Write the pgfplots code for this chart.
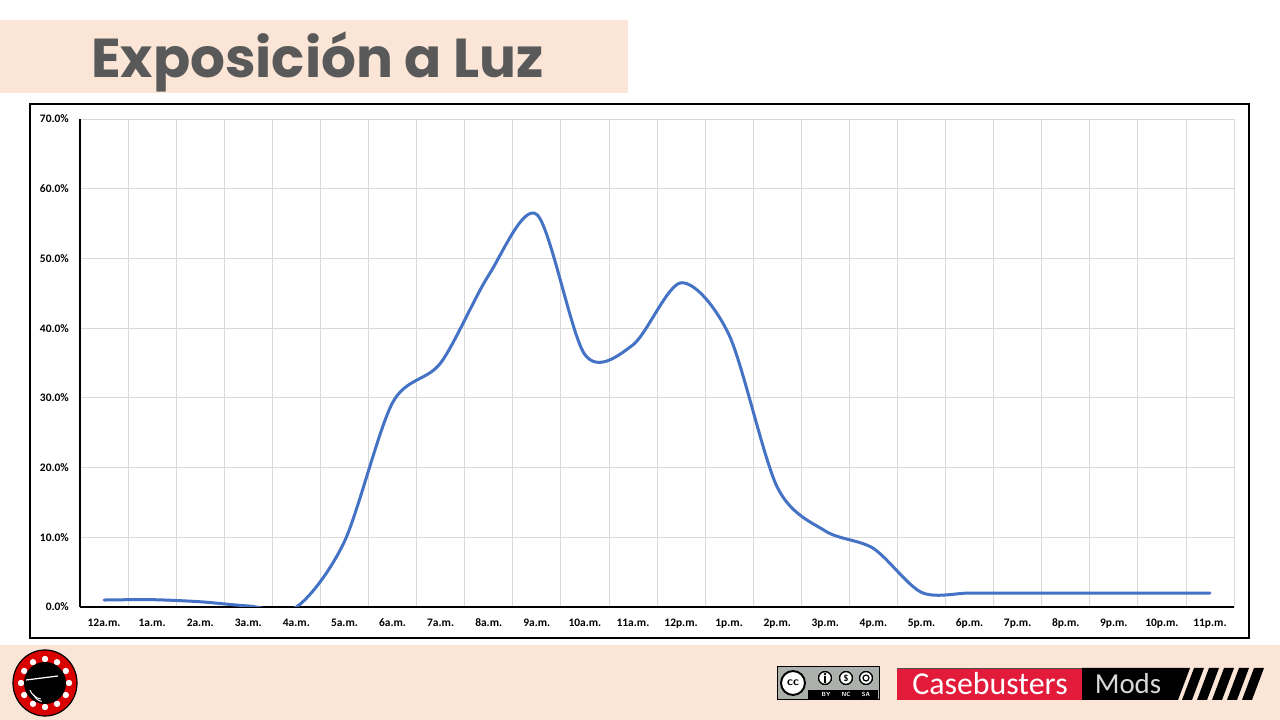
\documentclass[border=0pt]{standalone}
\usepackage{fontspec}
\setmainfont{Carlito}
\newfontfamily\titlefont{Poppins}
\usepackage{pgfplots}
\pgfplotsset{compat=1.18}
\definecolor{peach}{HTML}{FBE5D6}
\definecolor{titlegray}{HTML}{595959}
\definecolor{gridgray}{HTML}{D9D9D9}
\definecolor{lineblue}{HTML}{4472C4}
\definecolor{cbred}{HTML}{E31B3B}
\definecolor{ccgray}{HTML}{ABB1AA}
\pgfplotstableread{
x y
0 1.0
1 1.05
2 0.75
3 0.15
4 0.0
5 9.4
6 29.3
7 35.0
8 47.6
9 56.3
10 36.2
11 37.6
12 46.5
13 39.0
14 17.2
15 10.9
16 8.4
17 2.1
18 2.0
19 2.0
20 2.0
21 2.0
22 2.0
23 2.0
}\luzdata
\begin{document}
\begin{tikzpicture}[x=1bp,y=1bp]
\fill[white] (0,0) rectangle (1280,720);
% title band
\fill[peach] (0,700) rectangle (628,627);
\node[anchor=base west, inner sep=0pt, text=titlegray, font=\titlefont\bfseries\fontsize{55}{60}\selectfont] at (91,642) {Exposición a Luz};
% chart frame
\draw[black, line width=1.2bp] (30,616) rectangle (1249,82);
% bottom band
\fill[peach] (0,0) rectangle (1280,75);
% left logo
\fill[red!85!black] (45,37) ellipse [x radius=32, y radius=33];
\draw[black, line width=1.2bp] (45,37) ellipse [x radius=32, y radius=33];
\foreach \a in {0,30,...,330} {\fill[white] (45,37) ++(\a:24) circle (3.2);}
\fill[black] (45,37) circle (21);
\draw[white, line width=1.2bp] (26,40) -- (58,44);
\draw[white, line width=1bp] (30,30) arc (200:260:14);
\draw[white, line width=1bp] (34,25) arc (200:260:10);
% CC badge
\fill[ccgray] (777,53) rectangle (879,20);
\fill[black] (808,30) rectangle (878,21);
\draw[black, line width=1bp] (777,53) rectangle (879,20);
\fill[white] (793,37) circle (13);
\draw[black, line width=2bp] (793,37) circle (12);
\node[font=\sffamily\bfseries\fontsize{12}{12}\selectfont, inner sep=0pt] at (793,37) {cc};
\foreach \cx in {825,846,866} {\fill[white] (\cx,42) circle (7.5); \draw[black, line width=1.5bp] (\cx,42) circle (6.5);}
\fill[black] (825,46) circle (1.3); \fill[black] (823.8,37) rectangle (826.2,44);
\node[font=\sffamily\bfseries\fontsize{9}{9}\selectfont, inner sep=0pt] at (846,42) {\$};
\draw[black, line width=1.2bp] (866,42) circle (3);
\node[text=white, font=\sffamily\bfseries\fontsize{6}{6}\selectfont, inner sep=0pt] at (826,25.5) {BY};
\node[text=white, font=\sffamily\bfseries\fontsize{6}{6}\selectfont, inner sep=0pt] at (846,25.5) {NC};
\node[text=white, font=\sffamily\bfseries\fontsize{6}{6}\selectfont, inner sep=0pt] at (866,25.5) {SA};
% Casebusters Mods
\fill[cbred] (897,52) rectangle (1082,20);
\fill[black] (1082,20) -- (1082,52) -- (1190,52) -- (1178,20) -- cycle;
\draw[black!70, line width=0.8bp] (897,52) -- (1082,52);
\foreach \i in {0,...,4} {\fill[black] ({1182+15*\i},20) -- ({1192+15*\i},20) -- ({1204+15*\i},52) -- ({1194+15*\i},52) -- cycle;}
\node[text=white, font=\fontsize{32}{32}\selectfont, inner sep=0pt] at (990,36) {Casebusters};
\node[text=black!15, font=\fontsize{29}{29}\selectfont, inner sep=0pt] at (1128,36) {Mods};
\begin{axis}[
  at={(80bp,113bp)}, anchor=south west,
  scale only axis, width=1154bp, height=488bp,
  xmin=-0.5, xmax=23.5, ymin=0, ymax=70,
  xtick={0,...,23},
  xticklabels={12a.m.,1a.m.,2a.m.,3a.m.,4a.m.,5a.m.,6a.m.,7a.m.,8a.m.,9a.m.,10a.m.,11a.m.,12p.m.,1p.m.,2p.m.,3p.m.,4p.m.,5p.m.,6p.m.,7p.m.,8p.m.,9p.m.,10p.m.,11p.m.},
  minor xtick={0.5,1.5,...,22.5},
  xminorgrids, ymajorgrids,
  minor grid style={gridgray, line width=0.8bp},
  major grid style={gridgray, line width=0.8bp},
  ytick={0,10,...,70},
  yticklabels={0.0\%,10.0\%,20.0\%,30.0\%,40.0\%,50.0\%,60.0\%,70.0\%},
  axis line style={gridgray, line width=0.8bp},
  extra x ticks={-0.5}, extra x tick labels={},
  extra y ticks={0}, extra y tick labels={},
  extra tick style={grid=major, major grid style={black, line width=1.1bp}},
  major tick length=0pt, minor tick length=0pt,
  tick label style={font=\bfseries\fontsize{11.5}{12}\selectfont},
  xticklabel style={anchor=north, inner sep=0pt, text height=8.5bp, text depth=2.5bp, yshift=-11bp},
  yticklabel style={anchor=east, inner sep=0pt, xshift=-11bp},
]
\addplot[lineblue, line width=3bp, smooth, tension=0.5, no marks, line cap=round] table[x=x,y=y] {\luzdata};
\end{axis}
\end{tikzpicture}
\end{document}
